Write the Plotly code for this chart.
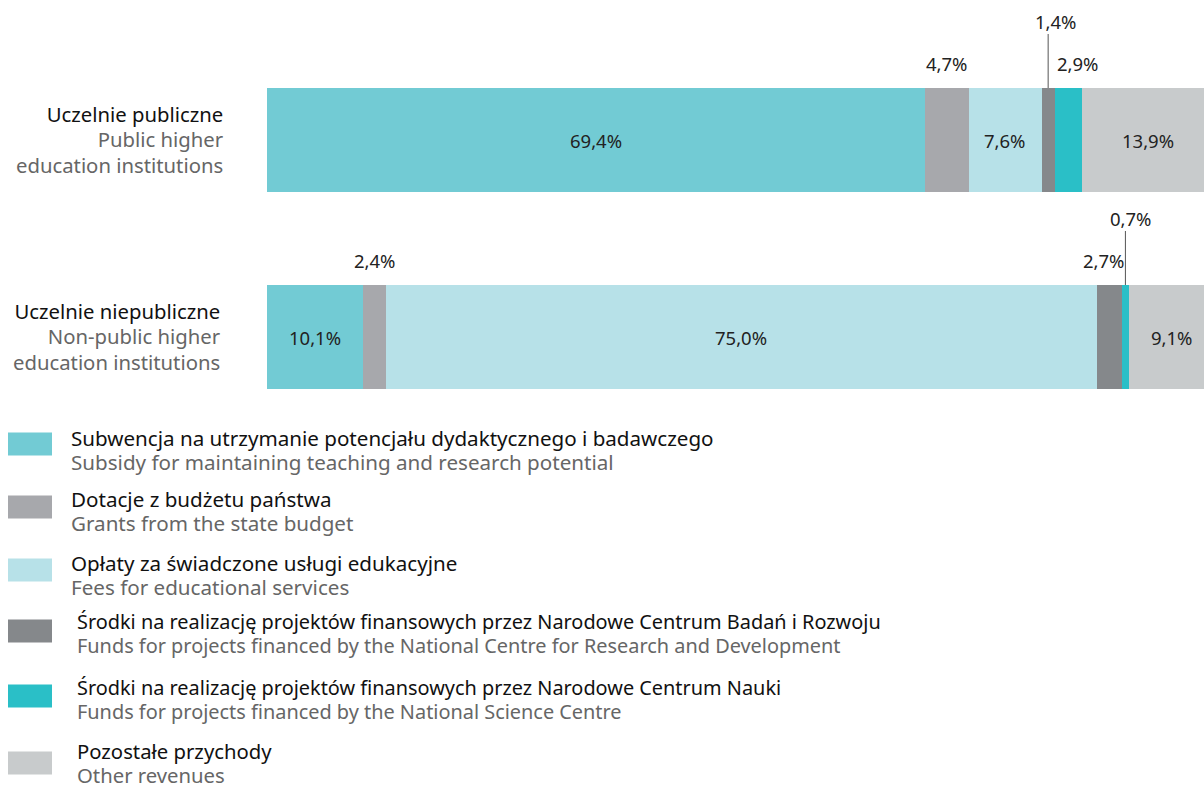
import plotly.graph_objects as go

W, H = 1204, 787

# ---- data ----
categories_pl = ["Uczelnie publiczne", "Uczelnie niepubliczne"]
categories_en = [["Public higher", "education institutions"],
                 ["Non-public higher", "education institutions"]]
series_pl = [
    "Subwencja na utrzymanie potencjału dydaktycznego i badawczego",
    "Dotacje z budżetu państwa",
    "Opłaty za świadczone usługi edukacyjne",
    "Środki na realizację projektów finansowych przez Narodowe Centrum Badań i Rozwoju",
    "Środki na realizację projektów finansowych przez Narodowe Centrum Nauki",
    "Pozostałe przychody",
]
series_en = [
    "Subsidy for maintaining teaching and research potential",
    "Grants from the state budget",
    "Fees for educational services",
    "Funds for projects financed by the National Centre for Research and Development",
    "Funds for projects financed by the National Science Centre",
    "Other revenues",
]
public = [69.4, 4.7, 7.6, 1.4, 2.9, 13.9]
nonpublic = [10.1, 2.4, 75.0, 2.7, 0.7, 9.1]

colors = ["#72CBD4", "#A7A8AC", "#B7E1E8", "#85888B", "#2ABFC7", "#C8CBCC"]
# label placement: 0 = inside, 1 = above, 2 = above with leader line
public_place = [0, 1, 0, 2, 1, 0]
nonpublic_place = [0, 1, 0, 1, 2, 0]
public_xshift = [0, 0, 0, 8, 9, 0]
nonpublic_xshift = [0, 1, 0, -5, 6, 0]

FONT = "Noto Sans"
PCT_SIZE = 18.5
CAT_SIZE = 20.3
LEG_SIZE = [20.6, 20.6, 20.6, 19.9, 19.9, 20.3]
BAR_W = 0.528
ypos = [1, 0]

fig = go.Figure()
for i in range(len(series_pl)):
    fig.add_trace(go.Bar(
        x=[public[i], nonpublic[i]], y=ypos, orientation="h",
        marker=dict(color=colors[i], line=dict(width=0)),
        width=BAR_W, name=series_pl[i], showlegend=False, hoverinfo="skip",
    ))

annotations = []
shapes = []

def fmt(v):
    return f"{v:.1f}".replace(".", ",") + "%"

def span(txt, size, color):
    return f"<span style='font-size:{size}px;color:{color}'>{txt}</span>"

for row, (vals, places, shifts) in enumerate([(public, public_place, public_xshift),
                                               (nonpublic, nonpublic_place, nonpublic_xshift)]):
    yc = ypos[row]
    cum = 0
    for i, v in enumerate(vals):
        mid = cum + v / 2
        cum += v
        p = places[i]
        if p == 0:
            annotations.append(dict(x=mid, y=yc, xref="x", yref="y", text=fmt(v),
                                    showarrow=False, font=dict(family=FONT, size=PCT_SIZE, color="#222")))
        else:
            ysh = 77 if p == 1 else 119
            annotations.append(dict(x=mid, y=yc, xref="x", yref="y", text=fmt(v),
                                    showarrow=False, yshift=ysh, xshift=shifts[i],
                                    font=dict(family=FONT, size=PCT_SIZE, color="#222")))
            if p == 2:
                top = yc + BAR_W / 2
                shapes.append(dict(type="line", xref="x", yref="y", x0=mid, x1=mid,
                                   y0=top, y1=top + 54 / 197,
                                   line=dict(color="#555", width=1)))

# category labels (one text block each; base font size sets the line spacing)
cat_right = [226, 223]
for row in range(2):
    yc = ypos[row]
    xr = cat_right[row] / W
    txt = "<br>".join([span(categories_pl[row], CAT_SIZE, "#111")] +
                      [span(t, CAT_SIZE, "#666") for t in categories_en[row]])
    annotations.append(dict(x=xr, y=yc, xref="paper", yref="y", xanchor="right", yanchor="middle",
                            align="right", text=txt, showarrow=False, yshift=1,
                            font=dict(family=FONT, size=19.5, color="#111")))

# legend
sw_centers = [444, 507, 570, 631, 696, 763]
txt_centers = [449.5, 511, 574.5, 633, 699, 762.5]
tx = [69, 69, 69, 75, 75, 75]
for i in range(len(series_pl)):
    c = sw_centers[i]
    shapes.append(dict(type="rect", xref="paper", yref="paper",
                       x0=8 / W, x1=52 / W, y0=1 - (c + 11.5) / H, y1=1 - (c - 11.5) / H,
                       fillcolor=colors[i], line=dict(width=0)))
    txt = span(series_pl[i], LEG_SIZE[i], "#111") + "<br>" + span(series_en[i], LEG_SIZE[i], "#666")
    annotations.append(dict(x=tx[i] / W, y=1 - txt_centers[i] / H, xref="paper", yref="paper",
                            xanchor="left", yanchor="middle", align="left", text=txt,
                            showarrow=False,
                            font=dict(family=FONT, size=18.5, color="#111")))

ytop = 1 + 140 / 197
ybot = 0 - (H - 337) / 197
fig.update_layout(
    width=W, height=H, barmode="stack", bargap=0,
    margin=dict(l=0, r=0, t=0, b=0),
    paper_bgcolor="white", plot_bgcolor="white",
    xaxis=dict(domain=[267 / W, 1], range=[0, 100 * 937 / 948], visible=False, fixedrange=True),
    yaxis=dict(range=[ybot, ytop], visible=False, fixedrange=True),
    annotations=annotations, shapes=shapes,
    font=dict(family=FONT),
)
fig.write_html("out.html", config={"displayModeBar": False},
               post_script="document.body.style.margin='0';document.body.style.overflow='hidden';")
